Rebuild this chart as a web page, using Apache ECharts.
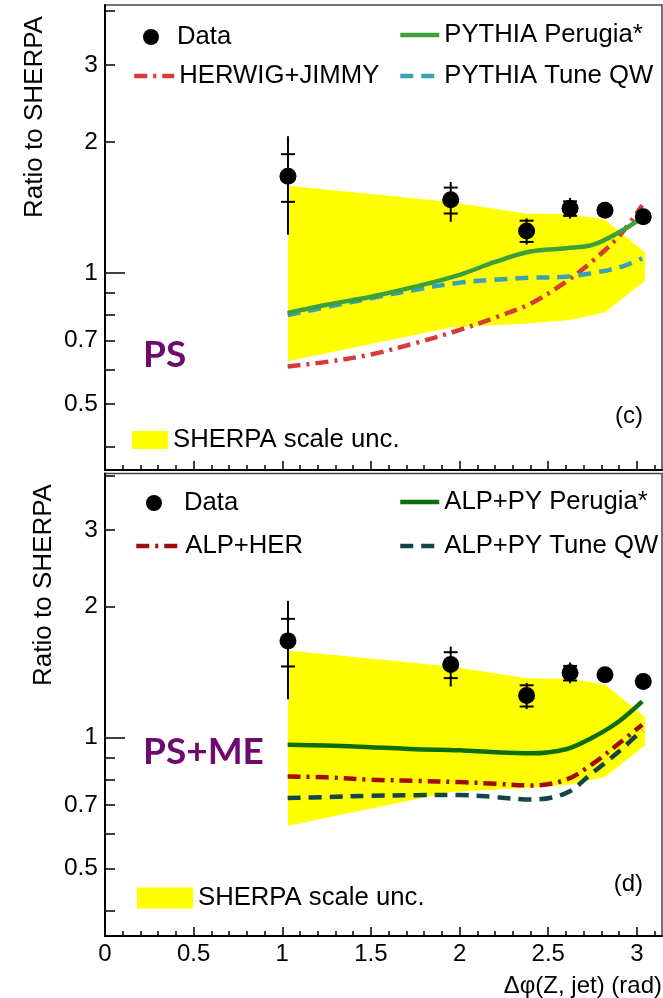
<!DOCTYPE html>
<html><head><meta charset="utf-8">
<script src="https://cdn.jsdelivr.net/npm/echarts@6/dist/echarts.min.js"></script>
<style>html,body{margin:0;padding:0;background:#fff}#c{width:663px;height:998px}</style>
</head><body><div id="c"></div>
<script>
// ---- measured data (ratio to SHERPA) ----
const dataX  = [1.032, 1.95, 2.378, 2.623, 2.82, 3.036];
const dataY  = [1.667, 1.472, 1.248, 1.408, 1.393, 1.345];
const totLo  = [1.224, 1.31, 1.162, 1.332, 1.36, 1.325];
const totHi  = [2.06, 1.617, 1.334, 1.487, 1.43, 1.37];
const statLo = [1.456, 1.369, 1.178, 1.352, 1.37, 1.33];
const statHi = [1.873, 1.57, 1.318, 1.46, 1.415, 1.36];

// ---- SHERPA scale uncertainty band ----
const bandX  = [1.032, 1.95, 2.38, 2.62, 2.82, 3.046];
const bandLo = [0.627, 0.75, 0.766, 0.78, 0.812, 0.96];
const bandHi = [1.585, 1.455, 1.368, 1.365, 1.324, 1.115];

// ---- MC predictions ----
const curveX        = [1.03, 1.25, 1.5, 1.75, 2.0, 2.2, 2.4, 2.6, 2.75, 2.9, 3.03];
const pythiaPerugia = [0.809, 0.845, 0.882, 0.93, 0.99, 1.06, 1.12, 1.14, 1.16, 1.24, 1.34];
const pythiaQW      = [0.80, 0.835, 0.875, 0.915, 0.95, 0.965, 0.975, 0.98, 1.0, 1.03, 1.08];
const herwigJimmy   = [0.61, 0.625, 0.65, 0.69, 0.74, 0.79, 0.85, 0.955, 1.065, 1.215, 1.43];
const alpPyPerugia  = [0.963, 0.958, 0.95, 0.94, 0.935, 0.925, 0.92, 0.94, 1.0, 1.09, 1.21];
const alpHer        = [0.814, 0.81, 0.80, 0.795, 0.79, 0.783, 0.776, 0.80, 0.87, 0.97, 1.07];
const alpPyQW       = [0.726, 0.73, 0.735, 0.737, 0.738, 0.73, 0.72, 0.745, 0.83, 0.93, 1.04];

// ---- ticks ----
const xMajorTicks = [0, 0.5, 1, 1.5, 2, 2.5, 3];
const xMinorTicks = [0.1, 0.2, 0.3, 0.4, 0.6, 0.7, 0.8, 0.9, 1.1, 1.2, 1.3, 1.4, 1.6, 1.7, 1.8, 1.9,
                     2.1, 2.2, 2.3, 2.4, 2.6, 2.7, 2.8, 2.9, 3.1];
const yLabelTicks = [0.5, 0.7, 1, 2, 3];
const yShortTicks = [0.4, 0.5, 0.6, 0.7, 0.8, 0.9, 2, 3, 4];
const yLongTicks  = [1];

const FONT = '"Liberation Sans", Arial, Helvetica, sans-serif';
const XMAX = 3.1416;
const panels = [
  {top: 5, height: 465, ymin: 0.353, ymax: 4.12},
  {top: 473.5, height: 463.2, ymin: 0.35, ymax: 4.04}
];

const DASHDOT = [13, 6, 3, 6];
const DASH = [13, 8];
const styles = {
  'HERWIG+JIMMY':    {color: '#d43c3c', dash: DASHDOT},
  'PYTHIA Tune QW':  {color: '#3ca0b4', dash: DASH},
  'PYTHIA Perugia*': {color: '#3ca03c', dash: 'solid'},
  'ALP+HER':         {color: '#a00c0c', dash: DASHDOT},
  'ALP+PY Tune QW':  {color: '#124646', dash: DASH},
  'ALP+PY Perugia*': {color: '#0c6e0c', dash: 'solid'}
};

const chart = echarts.init(document.getElementById('c'), null, {renderer: 'canvas'});

const grid = panels.map(p => ({left: 105, right: 1, top: p.top, height: p.height, show: true,
  borderColor: '#444', borderWidth: 1.5, backgroundColor: 'transparent'}));

const tickStyle = {color: '#000', width: 1.5};
const xAxis = [], yAxis = [];
panels.forEach((p, g) => {
  xAxis.push({gridIndex: g, type: 'value', min: 0, max: XMAX, position: 'bottom',
    axisLine: {show: true, onZero: false, lineStyle: {color: '#000', width: 2}},
    axisTick: {show: true, inside: true, length: 9, customValues: xMajorTicks, lineStyle: tickStyle},
    axisLabel: g === 1 ? {show: true, customValues: xMajorTicks, fontSize: 24, fontFamily: FONT, color: '#000', margin: 6}
                       : {show: false},
    splitLine: {show: false},
    name: g === 1 ? 'Δφ(Z, jet) (rad)' : '',
    nameLocation: 'end', nameGap: 0,
    nameTextStyle: {fontSize: 24, fontFamily: FONT, color: '#000', align: 'right', verticalAlign: 'top', padding: [38, 0, 0, 0]}
  });
  xAxis.push({gridIndex: g, type: 'value', min: 0, max: XMAX, position: 'bottom',
    axisLine: {show: false, onZero: false},
    axisTick: {show: true, inside: true, length: 5, customValues: xMinorTicks, lineStyle: tickStyle},
    axisLabel: {show: false}, splitLine: {show: false}});
  yAxis.push({gridIndex: g, type: 'log', min: p.ymin, max: p.ymax, position: 'left',
    axisLine: {show: true, onZero: false, lineStyle: {color: '#000', width: 2}},
    axisTick: {show: true, inside: true, length: 10, customValues: yShortTicks, lineStyle: tickStyle},
    axisLabel: {show: true, customValues: yLabelTicks, fontSize: 24.5, fontFamily: FONT, color: '#000', margin: 7,
      formatter: v => String(+v.toPrecision(3))},
    splitLine: {show: false}});
  yAxis.push({gridIndex: g, type: 'log', min: p.ymin, max: p.ymax, position: 'left',
    axisLine: {show: false, onZero: false},
    axisTick: {show: true, inside: true, length: 20, customValues: yLongTicks, lineStyle: tickStyle},
    axisLabel: {show: false}, splitLine: {show: false}});
});

function bandSeries(g) {
  return {type: 'custom', name: 'SHERPA scale unc.', xAxisIndex: 2 * g, yAxisIndex: 2 * g, z: 1, silent: true,
    itemStyle: {color: '#ffff00'},
    data: bandX.map((x, i) => [x, bandLo[i], bandHi[i]]),
    encode: {x: 0, y: [1, 2]},
    renderItem: (params, api) => {
      if (params.dataIndexInside !== 0) return;
      const n = params.dataInsideLength;
      const up = [], lo = [];
      for (let i = 0; i < n; i++) {
        up.push(api.coord([api.value(0, i), api.value(2, i)]));
        lo.push(api.coord([api.value(0, i), api.value(1, i)]));
      }
      return {type: 'polygon', shape: {points: up.concat(lo.reverse())}, style: {fill: '#ffff00'}};
    }};
}
function curve(g, name, vals) {
  const s = styles[name];
  return {type: 'line', name, xAxisIndex: 2 * g, yAxisIndex: 2 * g, z: 3, smooth: 0.35, symbol: 'none', silent: true,
    data: curveX.map((x, i) => [x, vals[i]]), color: s.color,
    lineStyle: {color: s.color, width: 4.5, type: s.dash, cap: 'butt'}};
}
function errSeries(g) {
  return {type: 'custom', name: 'Data errors', xAxisIndex: 2 * g, yAxisIndex: 2 * g, z: 4, silent: true,
    data: dataX.map((x, i) => [x, totLo[i], totHi[i], statLo[i], statHi[i]]),
    encode: {x: 0, y: [1, 2]},
    renderItem: (params, api) => {
      const x = api.value(0);
      const a = api.coord([x, api.value(1)]), b = api.coord([x, api.value(2)]);
      const c = api.coord([x, api.value(3)]), d = api.coord([x, api.value(4)]);
      const w = 7, st = {stroke: '#000', lineWidth: 2};
      return {type: 'group', children: [
        {type: 'line', shape: {x1: a[0], y1: a[1], x2: b[0], y2: b[1]}, style: st},
        {type: 'line', shape: {x1: c[0] - w, y1: c[1], x2: c[0] + w, y2: c[1]}, style: st},
        {type: 'line', shape: {x1: d[0] - w, y1: d[1], x2: d[0] + w, y2: d[1]}, style: st}
      ]};
    }};
}
function dataSeries(g) {
  return {type: 'scatter', name: 'Data', xAxisIndex: 2 * g, yAxisIndex: 2 * g, z: 5, silent: true,
    symbol: 'circle', symbolSize: 17, itemStyle: {color: '#000', opacity: 1},
    data: dataX.map((x, i) => [x, dataY[i]])};
}

const series = [
  bandSeries(0),
  curve(0, 'HERWIG+JIMMY', herwigJimmy),
  curve(0, 'PYTHIA Tune QW', pythiaQW),
  curve(0, 'PYTHIA Perugia*', pythiaPerugia),
  errSeries(0), dataSeries(0),
  bandSeries(1),
  curve(1, 'ALP+HER', alpHer),
  curve(1, 'ALP+PY Tune QW', alpPyQW),
  curve(1, 'ALP+PY Perugia*', alpPyPerugia),
  errSeries(1), dataSeries(1)
];

function lg(item, left, top, w, h) {
  return {data: [item], left, top, itemWidth: w, itemHeight: h, padding: 0, selectedMode: false,
    orient: 'horizontal', textStyle: {fontFamily: FONT, fontSize: 25.7, color: '#000'}};
}
function lineItem(name) {
  const s = styles[name];
  return {name, itemStyle: {opacity: 0},
    lineStyle: {color: s.color, width: 4.5, type: s.dash, cap: 'butt', opacity: 1}};
}
const dataItem = {name: 'Data', icon: 'circle', itemStyle: {color: '#000', opacity: 1}};
const bandItem = {name: 'SHERPA scale unc.', icon: 'rect', itemStyle: {color: '#ffff00'}};
const legend = [
  lg(dataItem, 143, 24, 42, 16),
  lg(lineItem('HERWIG+JIMMY'), 132, 63, 40, 16),
  lg(lineItem('PYTHIA Perugia*'), 398, 22, 39, 16),
  lg(lineItem('PYTHIA Tune QW'), 398, 63, 39, 16),
  lg(bandItem, 132, 427, 36, 18),
  lg(dataItem, 146, 490, 50, 16),
  lg(lineItem('ALP+HER'), 134, 533, 44, 16),
  lg(lineItem('ALP+PY Perugia*'), 398, 489, 39, 16),
  lg(lineItem('ALP+PY Tune QW'), 398, 533, 39, 16),
  lg(bandItem, 137, 885, 56, 21)
];

const txt = (text, x, y, opt) => ({type: 'text', x, y, z: 100, style: Object.assign({text, fill: '#000',
  font: '26px ' + FONT, textAlign: 'center', textVerticalAlign: 'middle'}, opt || {})});
const PSFONT = 'bold 37px Lato, "Open Sans", sans-serif';
const graphic = [
  Object.assign(txt('Ratio to SHERPA', 35, 117), {rotation: Math.PI / 2}),
  Object.assign(txt('Ratio to SHERPA', 44, 585), {rotation: Math.PI / 2}),
  txt('PS', 143, 355, {font: PSFONT, fill: '#6e0a6e', textAlign: 'left'}),
  txt('PS+ME', 143, 752, {font: PSFONT, fill: '#6e0a6e', textAlign: 'left'}),
  txt('(c)', 643, 416, {font: '24px ' + FONT, textAlign: 'right'}),
  txt('(d)', 643, 884, {font: '24px ' + FONT, textAlign: 'right'})
];

chart.setOption({animation: false, backgroundColor: '#fff', grid, xAxis, yAxis, series, legend, graphic});
</script></body></html>
